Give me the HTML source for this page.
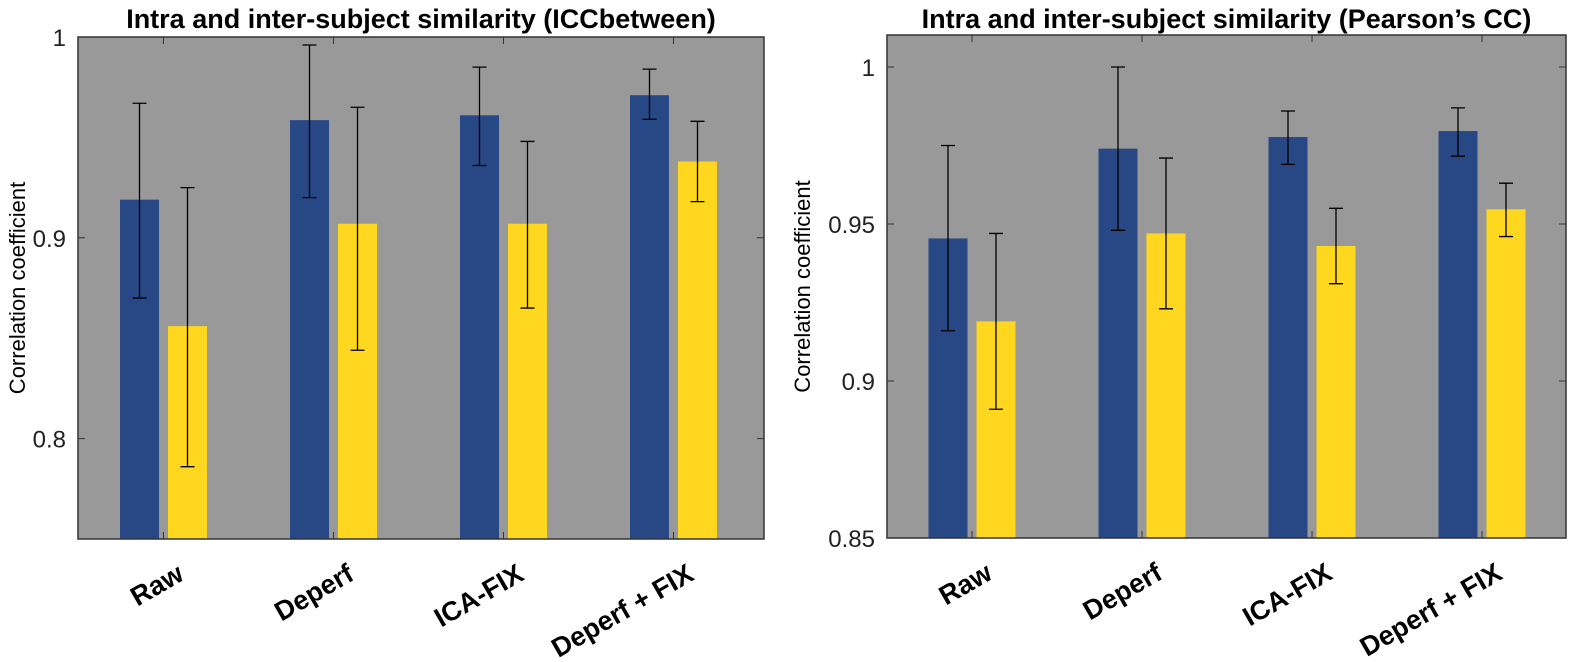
<!DOCTYPE html>
<html><head><meta charset="utf-8"><style>
body{margin:0;background:#fff;}
svg{display:block;font-family:"Liberation Sans",Arial,sans-serif;}
</style></head><body>
<svg id="chart" width="1578" height="662"></svg>
<script>
const categories=["Raw","Deperf","ICA-FIX","Deperf + FIX"];
const leftBlue=[0.919,0.9586,0.961,0.971];
const leftBlueLo=[0.870,0.920,0.936,0.959];
const leftBlueHi=[0.967,0.996,0.985,0.984];
const leftYellow=[0.856,0.907,0.907,0.938];
const leftYellowLo=[0.786,0.844,0.865,0.918];
const leftYellowHi=[0.925,0.965,0.948,0.958];
const leftTicks=[0.8,0.9,1];
const leftTickLabels=["0.8","0.9","1"];
const rightBlue=[0.9454,0.974,0.9777,0.9796];
const rightBlueLo=[0.916,0.948,0.969,0.9716];
const rightBlueHi=[0.975,1.0,0.986,0.987];
const rightYellow=[0.919,0.947,0.943,0.9547];
const rightYellowLo=[0.891,0.923,0.931,0.946];
const rightYellowHi=[0.947,0.971,0.955,0.963];
const rightTicks=[0.85,0.9,0.95,1];
const rightTickLabels=["0.85","0.9","0.95","1"];

const NS="http://www.w3.org/2000/svg";
const svg=document.getElementById('chart');
function mk(tag,attrs,parent){const e=document.createElementNS(NS,tag);for(const k in attrs)e.setAttribute(k,attrs[k]);(parent||svg).appendChild(e);return e;}

function panel(p){
  const g=mk('g',{});
  
  
  const y=v=>p.y0+(p.ymax-v)/(p.ymax-p.ymin)*(p.y1-p.y0);
  const xc=i=>p.x0+p.off+170*i;
  const bg=mk('rect',{x:p.x0,y:p.y0,width:p.x1-p.x0,height:p.y1-p.y0,fill:'#999999'},g);
  
  
  const series=[[p.blue,p.blueLo,p.blueHi,'#284785',-24,'blue'],[p.yellow,p.yellowLo,p.yellowHi,'#ffd71e',24,'yellow']];
  series.forEach(s=>{
    s[0].forEach((v,i)=>{
      const cx=xc(i)+s[4];
      const r=mk('rect',{x:cx-19.5,y:y(v),width:39,height:p.y1-y(v),fill:s[3]},g);
      
      
      const eb=mk('path',{d:`M${cx},${y(s[1][i])}V${y(s[2][i])}M${cx-7},${y(s[1][i])}h14M${cx-7},${y(s[2][i])}h14`,stroke:'#000','stroke-width':1.3,fill:'none'},g);
      
      
    });
  });
  const fr=mk('rect',{x:p.x0,y:p.y0,width:p.x1-p.x0,height:p.y1-p.y0,fill:'none',stroke:'#333','stroke-width':1.5},g);
  
  
  categories.forEach((c,i)=>{
    mk('path',{d:`M${xc(i)},${p.y0}v7M${xc(i)},${p.y1}v-7`,stroke:'#333','stroke-width':1},g);
    const t=mk('text',{x:0,y:0,'font-size':27,'font-weight':'bold','text-anchor':'end',transform:`translate(${xc(i)+22},${p.y1+40}) rotate(-30)`},g);
    t.textContent=c;
    
    
  });
  p.ticks.forEach((v,i)=>{
    mk('path',{d:`M${p.x0},${y(v)}h7M${p.x1},${y(v)}h-7`,stroke:'#333','stroke-width':1},g);
    const t=mk('text',{x:p.x0-12,y:y(v)+9,'font-size':24,'text-anchor':'end',fill:'#222'},g);
    t.textContent=p.tickLabels[i];
    
    
  });
  const yl=mk('text',{x:0,y:0,'font-size':22,'text-anchor':'middle',transform:`translate(${p.ylx},${(p.y0+p.y1)/2}) rotate(-90)`},g);
  yl.textContent='Correlation coefficient';
  
  
  const ti=mk('text',{x:(p.x0+p.x1)/2,y:28,'font-size':27,'font-weight':'bold','text-anchor':'middle'},g);
  ti.textContent=p.title;
  
  
}
panel({name:'left-panel',x0:78,x1:764,y0:37,y1:539,ymin:0.75,ymax:1,off:85.5,
  blue:leftBlue,blueLo:leftBlueLo,blueHi:leftBlueHi,yellow:leftYellow,yellowLo:leftYellowLo,yellowHi:leftYellowHi,
  ticks:leftTicks,tickLabels:leftTickLabels,ylx:25,title:'Intra and inter-subject similarity (ICCbetween)'});
panel({name:'right-panel',x0:887,x1:1566,y0:35,y1:538,ymin:0.85,ymax:1.0102,off:85,
  blue:rightBlue,blueLo:rightBlueLo,blueHi:rightBlueHi,yellow:rightYellow,yellowLo:rightYellowLo,yellowHi:rightYellowHi,
  ticks:rightTicks,tickLabels:rightTickLabels,ylx:810,title:'Intra and inter-subject similarity (Pearson’s CC)'});
</script>
</body></html>
